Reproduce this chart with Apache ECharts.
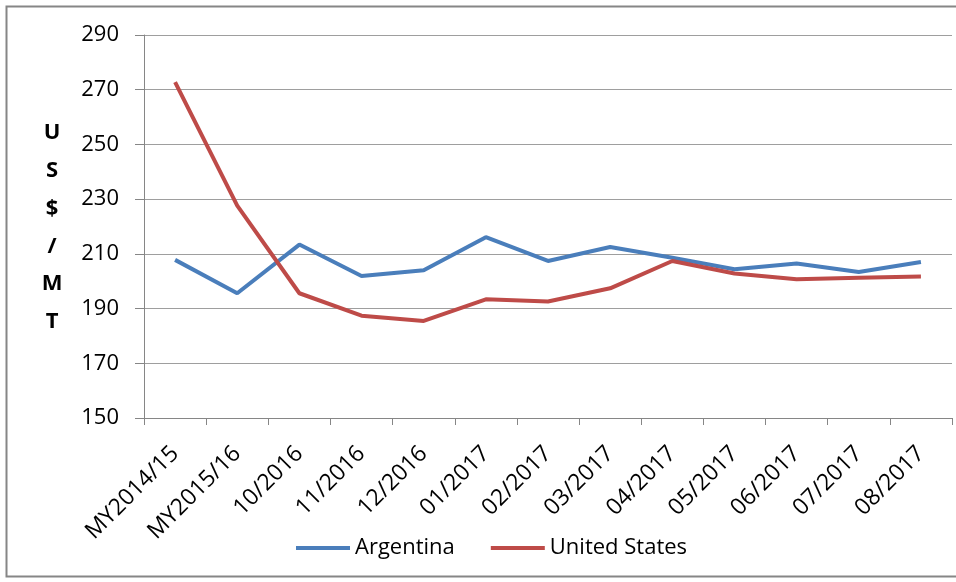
<!DOCTYPE html>
<html><head><meta charset="utf-8">
<script src="https://cdn.jsdelivr.net/npm/echarts@6/dist/echarts.min.js"></script>
<style>html,body{margin:0;padding:0;background:#fff}#c{width:956px;height:582px}</style>
</head><body><div id="c"></div>
<script>
var categories = ["MY2014/15","MY2015/16","10/2016","11/2016","12/2016","01/2017","02/2017","03/2017","04/2017","05/2017","06/2017","07/2017","08/2017"];
var argentina = [207.8,195.6,213.4,201.9,204.0,216.1,207.4,212.5,208.6,204.4,206.5,203.4,207.0];
var unitedStates = [272.8,227.6,195.6,187.4,185.5,193.4,192.6,197.4,207.4,202.8,200.7,201.3,201.7];
var yTicks = [150,170,190,210,230,250,270,290];
var font = "'Open Sans', 'Liberation Sans', sans-serif";
var chart = echarts.init(document.getElementById('c'));
chart.setOption({
  animation:false,
  backgroundColor:'#fff',
  graphic:[
    {type:'rect',shape:{x:6.5,y:6.5,width:960,height:570},style:{fill:'none',stroke:'#868686',lineWidth:2},silent:true},
    {type:'text',x:52,y:114,style:{text:'U\nS\n$\n/\nM\nT',font:"bold 22px 'Open Sans', sans-serif",lineHeight:37.8,fill:'#000',align:'center',verticalAlign:'top'}}
  ],
  grid:{left:144,right:4,top:35,bottom:164},
  legend:{
    left:291,top:531,itemWidth:54,itemHeight:4,itemGap:36,icon:'rect',
    textStyle:{fontFamily:font,fontSize:22,lineHeight:24,color:'#000'},
    data:['Argentina','United States']
  },
  xAxis:{
    type:'category',data:categories,boundaryGap:true,
    axisLine:{lineStyle:{color:'#868686',width:1}},
    axisTick:{show:true,length:7,alignWithLabel:false,lineStyle:{color:'#868686'}},
    axisLabel:{rotate:45,interval:0,fontFamily:font,fontSize:23,color:'#000',margin:32}
  },
  yAxis:{
    type:'value',min:150,max:290,interval:20,
    axisLine:{show:true,lineStyle:{color:'#868686'}},
    axisTick:{show:true,length:9,lineStyle:{color:'#868686'}},
    splitLine:{lineStyle:{color:'#9E9E9E',width:1}},
    axisLabel:{fontFamily:font,fontSize:22,color:'#000',margin:25,
      formatter:function(v){return yTicks.indexOf(v)>=0?String(v):'';}}
  },
  series:[
    {name:'Argentina',type:'line',data:argentina,symbol:'none',lineStyle:{color:'#4A7EBB',width:4},itemStyle:{color:'#4A7EBB'}},
    {name:'United States',type:'line',data:unitedStates,symbol:'none',lineStyle:{color:'#BE4B48',width:4},itemStyle:{color:'#BE4B48'}}
  ]
});
</script></body></html>
